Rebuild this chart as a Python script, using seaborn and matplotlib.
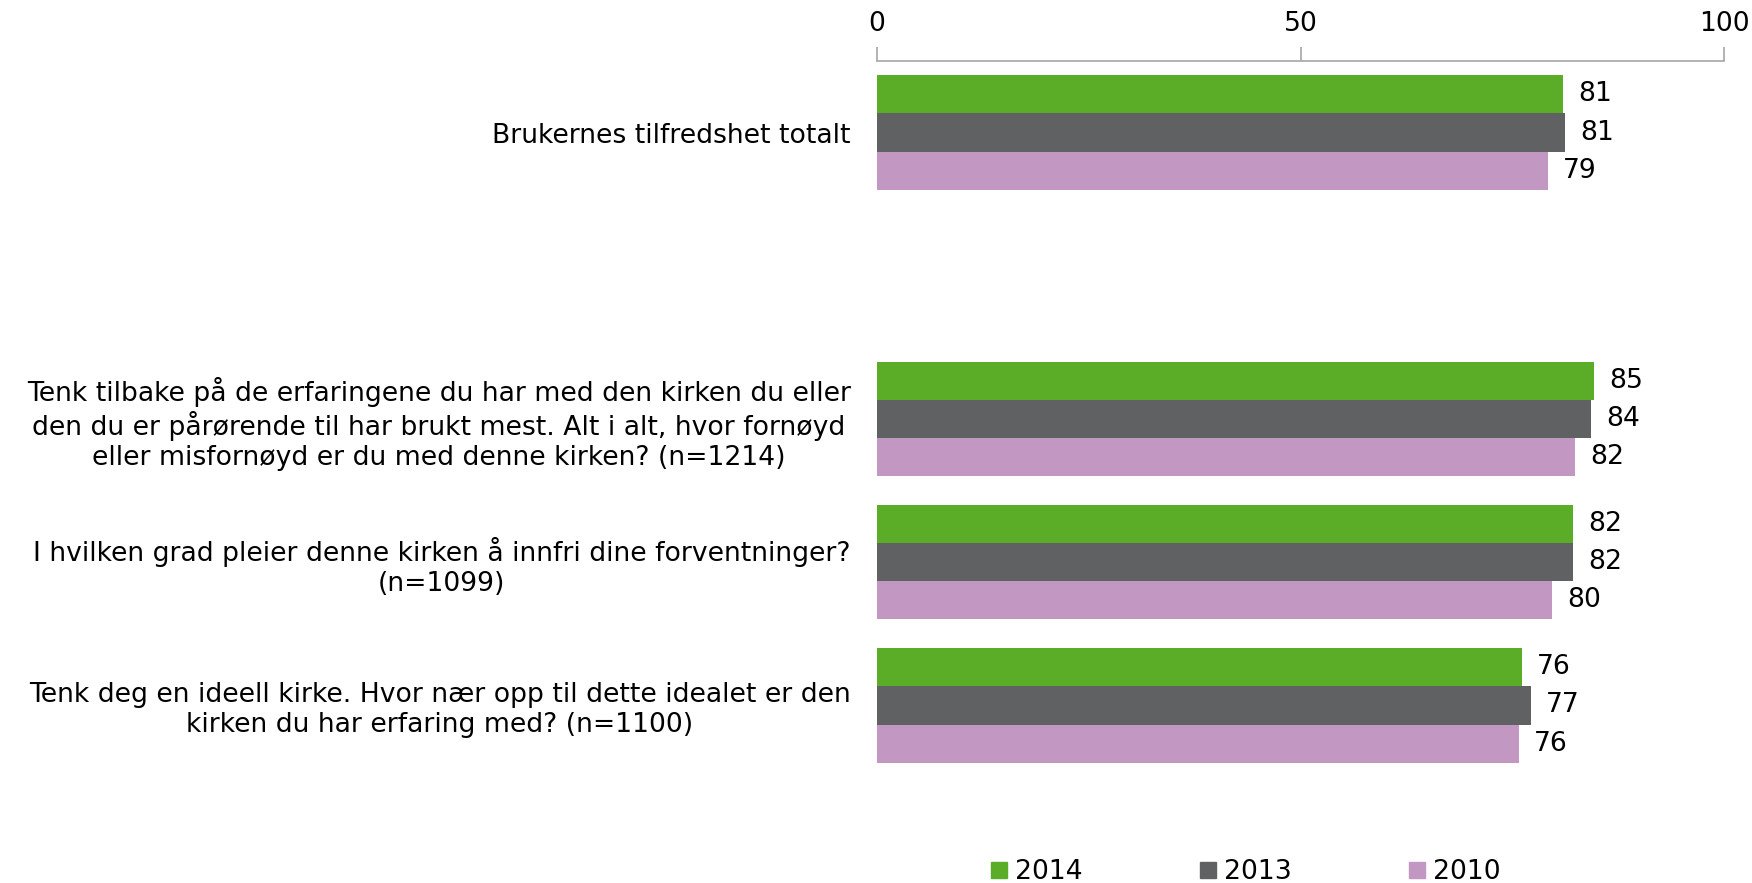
import matplotlib
matplotlib.use("Agg")
import matplotlib.pyplot as plt
import seaborn as sns
import pandas as pd
from matplotlib.lines import Line2D

categories = [
    "Brukernes tilfredshet totalt",
    "Tenk tilbake på de erfaringene du har med den kirken du eller\nden du er pårørende til har brukt mest. Alt i alt, hvor fornøyd\neller misfornøyd er du med denne kirken? (n=1214)",
    "I hvilken grad pleier denne kirken å innfri dine forventninger?\n(n=1099)",
    "Tenk deg en ideell kirke. Hvor nær opp til dette idealet er den\nkirken du har erfaring med? (n=1100)",
]
years = ["2014", "2013", "2010"]
v2014 = [81.0, 84.6, 82.2, 76.1]
v2013 = [81.2, 84.3, 82.2, 77.2]
v2010 = [79.2, 82.4, 79.7, 75.8]
colors = ["#5BAD28", "#606163", "#C297C2"]

rows = []
for yr, vals in zip(years, [v2014, v2013, v2010]):
    for c, v in zip(categories, vals):
        rows.append({"cat": c, "year": yr, "value": v})
df = pd.DataFrame(rows)

order = [categories[0], " ", categories[1], categories[2], categories[3]]

sns.set_theme(style="white")
plt.rcParams["font.family"] = ["DejaVu Sans"]
plt.rcParams["text.color"] = "black"
plt.rcParams["xtick.color"] = "black"
plt.rcParams["ytick.color"] = "black"

FS = 19.2

fig = plt.figure(figsize=(17.52, 8.83), dpi=100)
ax = fig.add_axes([0.5006, 0.120, 0.4834, 0.811])

sns.barplot(data=df, y="cat", x="value", hue="year", order=order,
            hue_order=years, palette=colors, orient="h", width=0.8,
            saturation=1, edgecolor="none", ax=ax, legend=False)

for cont in ax.containers:
    ax.bar_label(cont, fmt="%.0f", padding=11, fontsize=FS, color="black")

ax.set_xlim(0, 100)
ax.set_ylim(4.5, -0.5)
ax.set_xticks([0, 50, 100])
ax.xaxis.tick_top()
ax.tick_params(axis="x", which="both", top=True, bottom=False, direction="out",
               length=10, width=1.2, color="#A6A6A6", labelcolor="black",
               labelsize=FS, pad=7)
ax.tick_params(axis="y", left=False, length=0, labelsize=FS, pad=19,
               labelcolor="black")
for lab in ax.get_yticklabels():
    lab.set_multialignment("center")
ax.set_xlabel("")
ax.set_ylabel("")
for s in ["right", "bottom", "left"]:
    ax.spines[s].set_visible(False)
ax.spines["top"].set_color("#A6A6A6")
ax.spines["top"].set_linewidth(1.2)

handles = [Line2D([0], [0], marker="s", linestyle="none", markersize=12,
                  markerfacecolor=c, markeredgecolor=c) for c in colors]
fig.legend(handles, years, loc="center", bbox_to_anchor=(0.7095, 0.012),
           ncol=3, frameon=False, fontsize=FS, handletextpad=0.1,
           columnspacing=4.2, handlelength=1.0)

fig.savefig("out.png", dpi=100)
